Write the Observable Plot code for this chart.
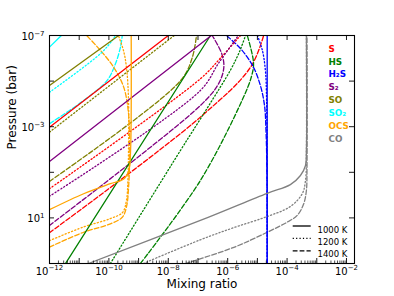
<!DOCTYPE html>
<html><head><meta charset="utf-8">
<script src="https://cdn.jsdelivr.net/npm/d3@7"></script>
<script src="https://cdn.jsdelivr.net/npm/@observablehq/plot@0.6"></script>
<style>body{margin:0;background:#fff} svg{font-family:"DejaVu Sans",sans-serif}</style>
</head><body><div id="chart"></div>
<script>
// Species and temperatures
const species = ["S", "HS", "H2S", "S2", "SO", "SO2", "OCS", "CO"];
const speciesLabels = ["S", "HS", "H₂S", "S₂", "SO", "SO₂", "OCS", "CO"];
const temps = ["1000 K", "1200 K", "1400 K"];
// Profiles: [log10 mixing ratio, log10 pressure (bar)]
const S_1000 = [[-12,-2.98],[-8,-7]];
const S_1200 = [[-12,-0.28],[-6.92,-5.1],[-6.25,-6.0],[-5.57,-7]];
const S_1400 = [[-12,1.65],[-6.92,-3.42],[-5.23,-5.61],[-4.79,-7]];
const HS_1000 = [[-11.46,3],[-6.58,-7]];
const HS_1200 = [[-9.95,3],[-7.59,-1.96],[-6.6,-4.0],[-5.9,-5.5],[-5.6,-6.3],[-5.4,-7]];
const HS_1400 = [[-8.94,3],[-6.92,-0.64],[-5.5,-4.2],[-5.2,-5.2],[-5.13,-5.8],[-5.34,-7]];
const H2S_1000 = [[-4.67,3],[-4.67,-7]];
const H2S_1200 = [[-4.67,3],[-4.69,-4.15],[-4.73,-5.46],[-4.83,-6.34],[-5.0,-7]];
const H2S_1400 = [[-4.67,3],[-4.68,-1.08],[-4.71,-2.83],[-4.76,-3.93],[-4.9,-4.81],[-5.16,-5.68],[-5.57,-6.43],[-6.04,-7]];
const S2_1000 = [[-12,-1.47],[-6.55,-7]];
const S2_1200 = [[-12,0.05],[-6.92,-4.59],[-6.3,-5.8],[-5.64,-7]];
const S2_1400 = [[-12,1.33],[-6.92,-3.93],[-6.3,-4.9],[-6.13,-5.6],[-6.2,-6.2],[-6.52,-7]];
const SO_1000 = [[-12,-4.81],[-9.67,-7]];
const SO_1200 = [[-12,-2.76],[-7.8,-7]];
const SO_1400 = [[-12,-0.6],[-7.6,-5.0],[-7.2,-6.0],[-7.05,-7]];
const SO2_1000 = [[-12,-6.49],[-11.6,-7]];
const SO2_1200 = [[-12,-4.51],[-10.28,-6.21],[-9.89,-6.78],[-9.78,-7]];
const SO2_1400 = [[-12,-3.13],[-10.85,-4.15],[-10.06,-5.03],[-9.78,-5.76],[-9.61,-6.49],[-9.55,-7]];
const OCS_1000 = [[-12,0.64],[-10.85,-0.06],[-9.95,-0.5],[-9.5,-0.71],[-9.33,-1.08],[-9.27,-1.96],[-9.25,-7]];
const OCS_1200 = [[-12,2.0],[-10.86,1.4],[-9.95,1.03],[-9.54,0.76],[-9.41,0.24],[-9.36,-0.64],[-9.34,-1.96],[-9.34,-4.2],[-9.4,-5.5],[-9.5,-6.3],[-9.68,-7]];
const OCS_1400 = [[-12,2.28],[-10.85,1.63],[-9.95,1.26],[-9.55,0.97],[-9.41,0.53],[-9.33,-0.5],[-9.3,-2.39],[-9.35,-3.71],[-9.5,-4.73],[-9.84,-5.61],[-10.28,-6.34],[-10.75,-7]];
const CO_1000 = [[-10.69,3],[-6.92,1.11],[-4.67,-0.08],[-3.89,-0.46],[-3.55,-0.86],[-3.38,-1.3],[-3.35,-1.96],[-3.35,-7]];
const CO_1200 = [[-8.84,3],[-6.92,1.96],[-5.8,1.43],[-4.67,0.94],[-3.89,0.5],[-3.49,-0.06],[-3.38,-0.64],[-3.35,-1.96],[-3.35,-7]];
const CO_1400 = [[-7.42,3],[-5.79,2.29],[-4.67,1.63],[-4.0,1.19],[-3.66,0.89],[-3.44,0.38],[-3.35,-0.2],[-3.33,-1.08],[-3.33,-7]];

const profiles = {
  S: [S_1000, S_1200, S_1400], HS: [HS_1000, HS_1200, HS_1400], H2S: [H2S_1000, H2S_1200, H2S_1400],
  S2: [S2_1000, S2_1200, S2_1400], SO: [SO_1000, SO_1200, SO_1400], SO2: [SO2_1000, SO2_1200, SO2_1400],
  OCS: [OCS_1000, OCS_1200, OCS_1400], CO: [CO_1000, CO_1200, CO_1400]
};
// Axis ticks
const xTickLabels = [1e-12, 1e-10, 1e-8, 1e-6, 1e-4, 1e-2];
const yTickLabels = [1e-7, 1e-3, 1e1];
const xMajor = d3.range(-12, -1).map(e => 10 ** e);
const yMajor = [1e-7, 1e-5, 1e-3, 1e-1, 1e1, 1e3];

// Styles
const colors = {S: "red", HS: "green", H2S: "blue", S2: "purple", SO: "olive", SO2: "cyan", OCS: "orange", CO: "gray"};
const dashes = [null, "1.2,2.2", "4.8,2.1"];

const xMinor = [];
for (let e = -12; e <= -3; e++) for (let k = 2; k <= 9; k++) xMinor.push(k * 10 ** e);

const rows = [];
species.forEach(sp => profiles[sp].forEach((pts, ti) => pts.forEach(([lx, lp]) =>
  rows.push({sp, t: temps[ti], ti, x: 10 ** lx, y: 10 ** lp}))));

const supMap = {"-": "⁻", "0": "⁰", "1": "¹", "2": "²", "3": "³", "4": "⁴", "5": "⁵", "6": "⁶", "7": "⁷", "8": "⁸", "9": "⁹"};
const invSup = Object.fromEntries(Object.entries(supMap).map(([k, v]) => [v, k]));
const fmt = v => "10" + String(Math.round(Math.log10(v))).split("").map(c => supMap[c]).join("");

const W = 394, H = 296, mL = 49, mR = 40, mT = 35, mB = 33;
const fw = W - mL - mR, fh = H - mT - mB;

const lineMarks = temps.map((t, ti) => Plot.line(rows.filter(r => r.ti === ti), {
  x: "x", y: "y", z: "sp", stroke: d => colors[d.sp], strokeWidth: 1.3,
  strokeDasharray: dashes[ti], curve: "catmull-rom", clip: true
}));

const speciesText = speciesLabels.map((lab, i) => Plot.text([lab], {
  frameAnchor: "top-left", textAnchor: "start", dx: 279, dy: 10 + i * 12.85,
  fill: colors[species[i]], fontWeight: "bold", fontSize: 8.8
}));
const tempText = temps.map((t, i) => Plot.text([t], {
  frameAnchor: "top-left", textAnchor: "start", dx: 268, dy: 191 + i * 12.4,
  fill: "black", fontSize: 8.5
}));

const plot = Plot.plot({
  width: W, height: H, marginLeft: mL, marginRight: mR, marginTop: mT, marginBottom: mB,
  style: {fontFamily: "DejaVu Sans", background: "white"},
  x: {type: "log", domain: [1e-12, 10 ** -1.73]},
  y: {type: "log", domain: [1e-7, 1e3], reverse: true},
  color: {type: "identity"},
  marks: [
    ...lineMarks.slice().reverse(),
    Plot.frame({stroke: "black", strokeWidth: 1.1}),
    Plot.tickX(xMajor, {x: d => d, insetTop: fh - 5, stroke: "black", strokeWidth: 0.9}),
    Plot.tickX(xMinor, {x: d => d, insetTop: fh - 2.5, stroke: "black", strokeWidth: 0.7}),
    Plot.tickX(xMajor, {x: d => d, insetBottom: fh - 5, stroke: "black", strokeWidth: 0.9}),
    Plot.tickY(yMajor, {y: d => d, insetRight: fw - 5, stroke: "black", strokeWidth: 0.9}),
    Plot.tickY(yMajor, {y: d => d, insetLeft: fw - 5, stroke: "black", strokeWidth: 0.9}),
    Plot.axisX(xTickLabels, {tickSize: 0, tickPadding: 4, tickFormat: fmt, fontSize: 10, label: null, fill: "black"}),
    Plot.axisY(yTickLabels, {tickSize: 0, tickPadding: 5, tickFormat: fmt, fontSize: 10, label: null, fill: "black", dy: 1}),
    Plot.text(["Mixing ratio"], {frameAnchor: "bottom", dy: 24, fontSize: 12, fill: "black"}),
    Plot.text(["Pressure (bar)"], {frameAnchor: "left", dx: -37, rotate: -90, fontSize: 12, fill: "black"}),
    ...speciesText,
    ...tempText
  ]
});

const svg = d3.select(plot);
// mathtext-like superscripts for the tick labels
svg.selectAll('g[aria-label="x-axis tick label"] text, g[aria-label="y-axis tick label"] text').each(function () {
  const s = this.textContent;
  if (!s.startsWith("10")) return;
  const exp = [...s.slice(2)].map(c => invSup[c] ?? c).join("").replace("-", "−");
  const el = d3.select(this);
  el.text(null);
  el.append("tspan").text("10");
  el.append("tspan").attr("font-size", "7px").attr("dy", "-4.2").text(exp);
});
// temperature legend line samples
temps.forEach((t, i) => {
  svg.append("line")
    .attr("x1", 292.7).attr("x2", 310.7)
    .attr("y1", mT + 191 + i * 12.4).attr("y2", mT + 191 + i * 12.4)
    .attr("stroke", "black").attr("stroke-width", 1.3)
    .attr("stroke-dasharray", dashes[i]);
});
document.getElementById("chart").appendChild(plot);
</script></body></html>
